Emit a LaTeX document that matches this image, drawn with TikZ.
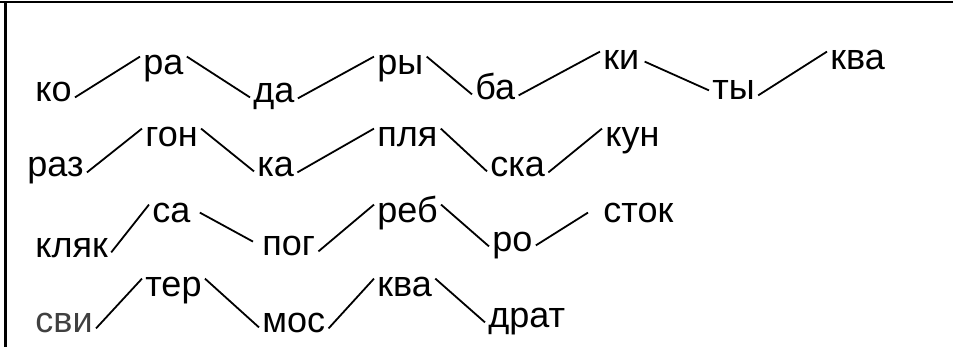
\documentclass[tikz,border=0pt]{standalone}
\usepackage{fontspec}
\setmainfont{Liberation Sans}
\tikzset{%
	syl/.style  = {font=\fontsize{18}{20}\selectfont, inner xsep=1.5pt, inner ysep=0pt,
		text height=9pt, text depth=0pt, anchor=base west}, % Syllable
	link/.style = {line width=0.9pt} % Connector
}
\begin{document}
\begin{tikzpicture}[x=0.5pt,y=-0.5pt]
			\useasboundingbox (0,0) rectangle (953,347);
			\draw[line width=1pt] (0,2) -- (953,2);
			\draw[line width=1.5pt] (5.5,2) -- (5.5,347);

			% first row
			\node[syl] (ko)    at (32,102)  {ко};
			\node[syl] (ra)    at (140,75)  {ра};
			\node[syl] (da)    at (250,103) {да};
			\node[syl] (ry)    at (374,75)  {ры};
			\node[syl] (ba)    at (472,100) {ба};
			\node[syl] (ki)    at (600,70)  {ки};
			\node[syl] (ty)    at (709,100) {ты};
			\node[syl] (kvaA)  at (827,70)  {ква};
			% second row
			\node[syl] (raz)   at (24,177)  {раз};
			\node[syl] (gon)   at (142,147) {гон};
			\node[syl] (ka)    at (254,177) {ка};
			\node[syl] (plya)  at (374,147) {пля};
			\node[syl] (ska)   at (487,177) {ска};
			\node[syl] (kun)   at (602,147) {кун};
			% third row
			\node[syl] (klyak) at (32,257)  {кляк};
			\node[syl] (sa)    at (149,223) {са};
			\node[syl] (pog)   at (259,256) {пог};
			\node[syl] (reb)   at (374,223) {реб};
			\node[syl] (ro)    at (489,252) {ро};
			\node[syl] (stok)  at (600,223) {сток};
			% fourth row
			\node[syl] (svi)   at (32,333)  {\color{black!75}сви};
			\node[syl] (ter)   at (142,297) {тер};
			\node[syl] (mos)   at (259,333) {мос};
			\node[syl] (kvaB)  at (374,297) {ква};
			\node[syl] (drat)  at (485,328) {драт};

			\draw[link] ([yshift=2.5pt]ko.south east) -- (ra.north west);
			\draw[link] (ra.north east) -- ([yshift=3pt]da.south west);
			\draw[link] ([yshift=2.5pt]da.south east) -- (ry.north west);
			\draw[link] (ry.north east) -- ([yshift=3pt]ba.south west);
			\draw[link] ([yshift=2.5pt]ba.south east) -- (ki.north west);
			\draw[link] ([xshift=1pt,yshift=-5pt]ki.north east) -- ([yshift=5pt]ty.south west);
			\draw[link] ([yshift=2.5pt]ty.south east) -- (kvaA.north west);

			\draw[link] ([yshift=2.5pt]raz.south east) -- (gon.north west);
			\draw[link] (gon.north east) -- ([yshift=3pt]ka.south west);
			\draw[link] ([yshift=2.5pt]ka.south east) -- (plya.north west);
			\draw[link] (plya.north east) -- ([yshift=3pt]ska.south west);
			\draw[link] ([yshift=2.5pt]ska.south east) -- (kun.north west);

			\draw[link] ([yshift=2.5pt]klyak.south east) -- (sa.north west);
			\draw[link] ([xshift=3pt,yshift=-4pt]sa.north east) -- ([xshift=-3pt,yshift=-2pt]pog.north west);
			\draw[link] ([yshift=2.5pt]pog.south east) -- (reb.north west);
			\draw[link] (reb.north east) -- ([yshift=3pt]ro.south west);
			\draw[link] ([yshift=3.5pt]ro.south east) -- ([xshift=-6pt,yshift=-4pt]stok.north west);

			\draw[link] ([yshift=2.5pt]svi.south east) -- (ter.north west);
			\draw[link] (ter.north east) -- ([yshift=3pt]mos.south west);
			\draw[link] ([yshift=2.5pt]mos.south east) -- (kvaB.north west);
			\draw[link] (kvaB.north east) -- ([yshift=3pt]drat.south west);
		\end{tikzpicture}
\end{document}
